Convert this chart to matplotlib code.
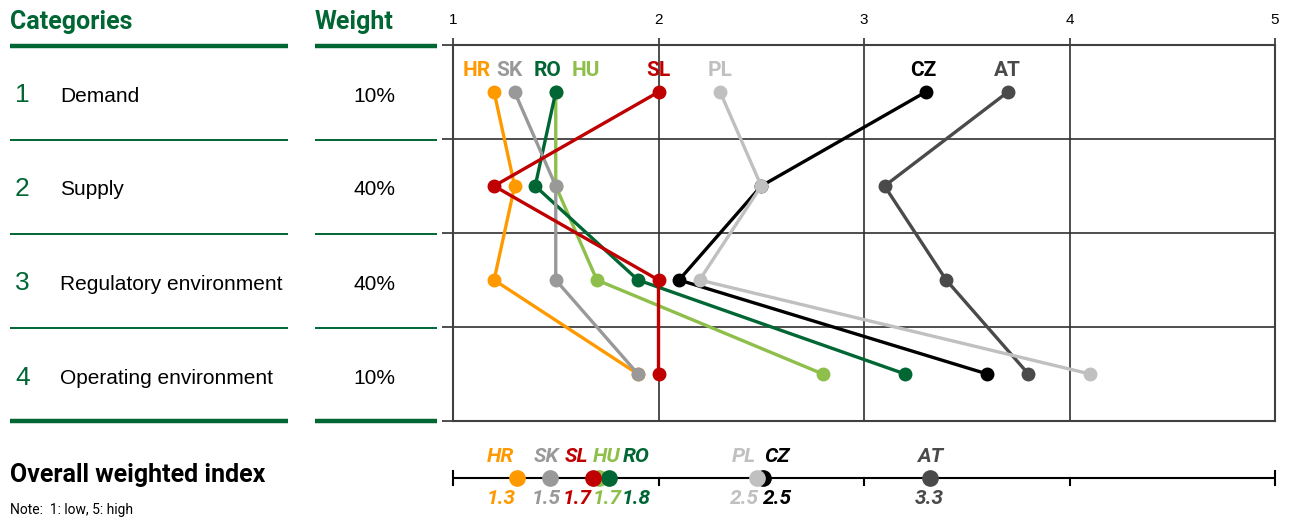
import matplotlib
matplotlib.use("Agg")
import matplotlib.pyplot as plt
from matplotlib.lines import Line2D

# data
countries = ["AT", "CZ", "PL", "HU", "RO", "HR", "SK", "SL"]
demand = [3.7, 3.3, 2.3, 1.5, 1.5, 1.2, 1.3, 2.0]
supply = [3.1, 2.5, 2.5, 1.5, 1.4, 1.3, 1.5, 1.2]
regulatory = [3.4, 2.1, 2.2, 1.7, 1.9, 1.2, 1.5, 2.0]
operating = [3.8, 3.6, 4.1, 2.8, 3.2, 1.9, 1.9, 2.0]
overall = [3.32, 2.51, 2.48, 1.71, 1.76, 1.31, 1.47, 1.68]

categories = ["Demand", "Supply", "Regulatory environment", "Operating environment"]
weights = ["10%", "40%", "40%", "10%"]
xticks = [1, 2, 3, 4, 5]

colors = {"AT": "#4a4a4a", "CZ": "#000000", "PL": "#c0c0c0", "HU": "#8dbf4a",
          "RO": "#006633", "HR": "#ff9900", "SK": "#999999", "SL": "#c00000"}
# label shifts in pixels
top_shift = {"AT": 0, "CZ": -2, "PL": 0, "HU": 30, "RO": -8, "HR": -17, "SK": -5, "SL": 0}
bot_shift = {"AT": 0, "CZ": 14, "PL": -13, "HU": 8, "RO": 27, "HR": -16, "SK": -3, "SL": -16}

green = "#006633"
narrow = ["Roboto", "DejaVu Sans"]
plt.rcParams["font.family"] = ["Liberation Sans", "DejaVu Sans"]

W, H = 1291, 518
fig = plt.figure(figsize=(W / 100, H / 100), dpi=100)


def fx(x):
    return x / W


def fy(y):
    return 1 - y / H


# left table
fig.text(fx(10), fy(22), "Categories", color=green, fontsize=18, fontweight="bold",
         family=narrow, va="center", ha="left")
fig.text(fx(315), fy(22), "Weight", color=green, fontsize=18, fontweight="bold",
         family=narrow, va="center", ha="left")
for x0, x1 in [(10, 288), (315, 437)]:
    fig.add_artist(Line2D([fx(x0), fx(x1)], [fy(46), fy(46)], color=green, lw=3.2,
                          solid_capstyle="butt", transform=fig.transFigure))
    fig.add_artist(Line2D([fx(x0), fx(x1)], [fy(421), fy(421)], color=green, lw=3.2,
                          solid_capstyle="butt", transform=fig.transFigure))
    for yy in [140, 234, 328]:
        fig.add_artist(Line2D([fx(x0), fx(x1)], [fy(yy), fy(yy)], color=green, lw=1.4,
                              solid_capstyle="butt", transform=fig.transFigure))

row_y = [96, 190, 284, 379]
for i, (cat, w) in enumerate(zip(categories, weights)):
    fig.text(fx(15), fy(row_y[i] - 1), str(i + 1), color=green, fontsize=19, va="center")
    fig.text(fx(60), fy(row_y[i]), cat, color="black", fontsize=15, va="center")
    fig.text(fx(374), fy(row_y[i]), w, color="black", fontsize=15, va="center", ha="center")

fig.text(fx(10), fy(475), "Overall weighted index", color="black", fontsize=18,
         fontweight="bold", family=narrow, va="center")
fig.text(fx(10), fy(510), "Note:  1: low, 5: high", color="black", fontsize=10,
         family=narrow, va="center")

# main chart
ax = fig.add_axes([fx(453), fy(421), (1275 - 453) / W, (421 - 45) / H])
ax.set_xlim(1, 5)
ax.set_ylim(4.5, 0.5)
ax.set_xticks(xticks)
ax.set_xticklabels([str(t) for t in xticks], fontsize=11)
ax.xaxis.tick_top()
ax.tick_params(axis="x", length=5, width=1.3, color="#404040", pad=8)
ax.set_yticks([0.5, 1.5, 2.5, 3.5, 4.5])
ax.set_yticklabels([])
ax.tick_params(axis="y", length=8, width=1.3, color="#404040")
ax.grid(True, color="#303030", lw=1.2)
for s in ax.spines.values():
    s.set_color("#404040")
    s.set_linewidth(1.5)

rows = [1, 2, 3, 4]
for i, c in enumerate(countries):
    vals = [demand[i], supply[i], regulatory[i], operating[i]]
    ax.plot(vals, rows, color=colors[c], lw=2.4, marker="o", ms=9, zorder=3 + i,
            clip_on=False)
    ax.annotate(c, (demand[i], 1), xytext=(top_shift[c], 22), textcoords="offset pixels",
                ha="center", va="center", color=colors[c], fontsize=15, fontweight="bold",
                family=narrow)

# bottom strip
ax2 = fig.add_axes([fx(453), fy(516), (1275 - 453) / W, 76 / H])
ax2.set_xlim(1, 5)
ax2.set_ylim(-1, 1)
ax2.axis("off")
ax2.plot([1, 5], [0, 0], color="black", lw=1.5, zorder=1)
for t in xticks:
    if t in (1, 5):
        ax2.plot([t, t], [-0.18, 0.18], color="black", lw=1.5, zorder=1, clip_on=False)
    else:
        ax2.plot([t, t], [-0.18, 0], color="black", lw=1.5, zorder=1)
for i, c in enumerate(countries):
    ax2.plot(overall[i], 0, "o", color=colors[c], ms=11, zorder=3 + i)
    ax2.annotate(c, (overall[i], 0), xytext=(bot_shift[c], 22), textcoords="offset pixels",
                 ha="center", va="center", color=colors[c], fontsize=15, fontweight="bold",
                 style="italic", family=narrow)
    ax2.annotate(f"{overall[i]:.1f}", (overall[i], 0), xytext=(bot_shift[c], -20),
                 textcoords="offset pixels", ha="center", va="center", color=colors[c],
                 fontsize=15, fontweight="bold", style="italic", family=narrow)

fig.savefig("out.png", dpi=100)
